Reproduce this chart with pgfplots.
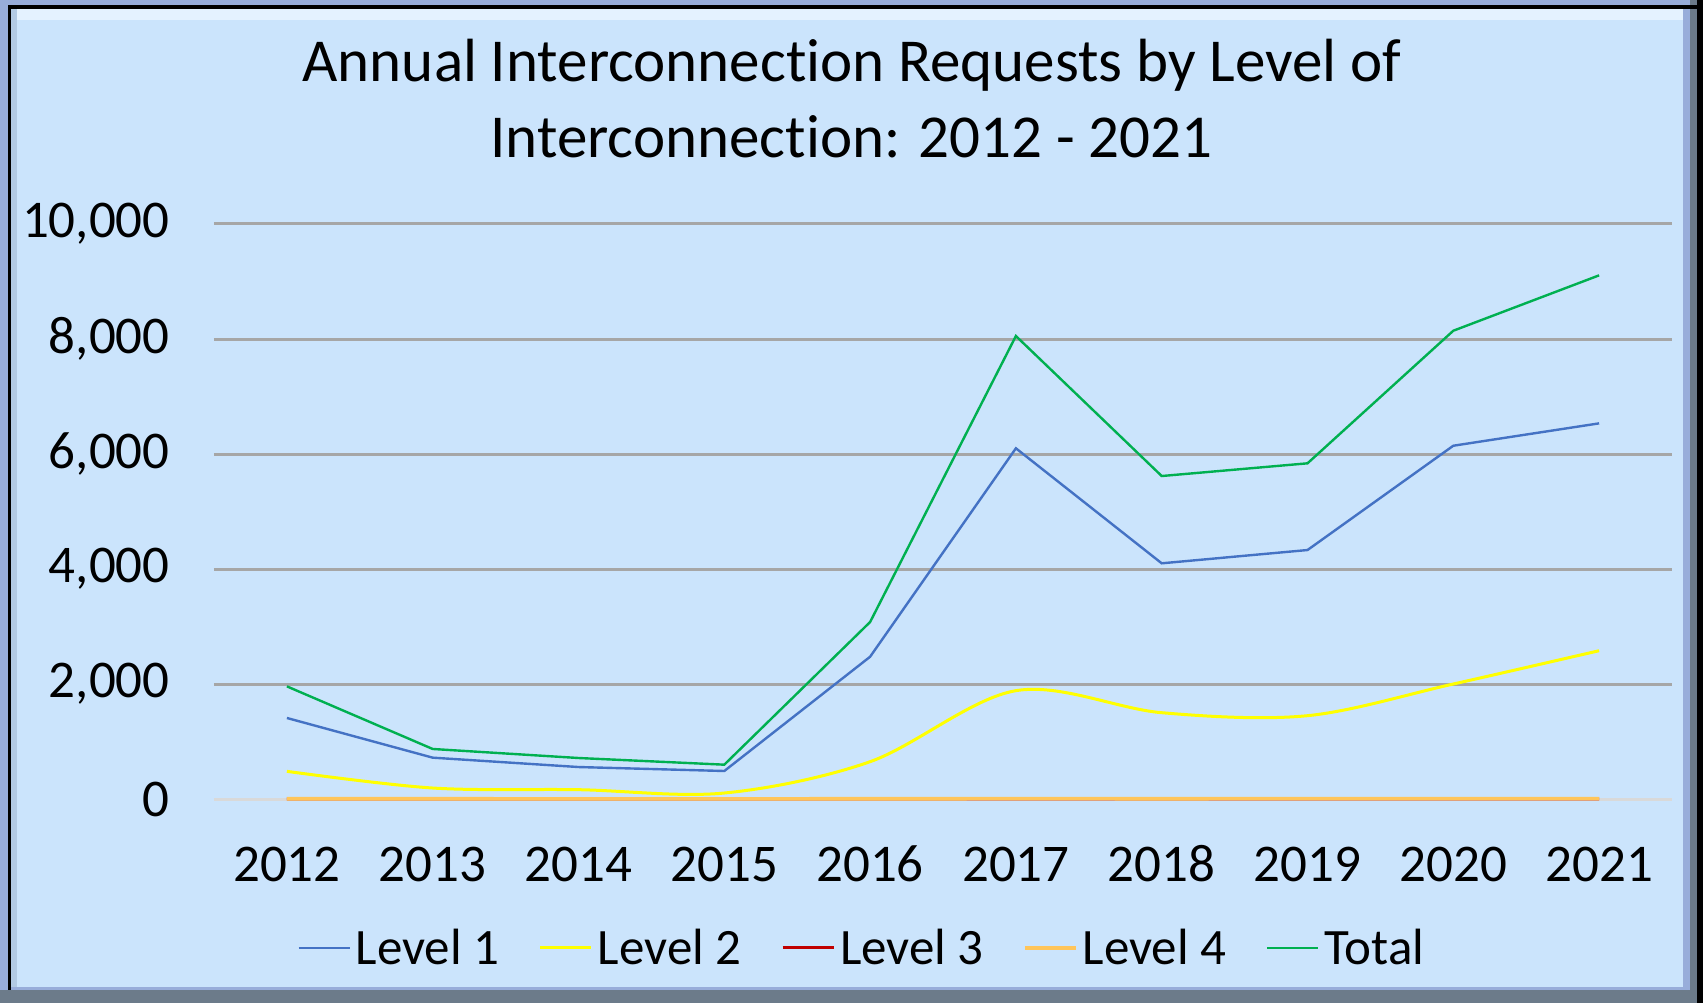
\documentclass[border=0pt]{standalone}
\usepackage{pgfplots}
\pgfplotsset{compat=1.18}
\usepackage{fontspec}
\setmainfont{Carlito}[Ligatures={NoCommon,NoContextual}]
\definecolor{bg}{RGB}{203,228,252}
\definecolor{framedark}{RGB}{108,123,138}
\definecolor{framelight}{RGB}{152,173,218}
\definecolor{hl}{RGB}{228,242,255}
\definecolor{leftstrip}{RGB}{178,202,228}
\definecolor{gridgray}{RGB}{166,166,166}
\definecolor{axisgray}{RGB}{217,217,217}
\definecolor{lvone}{RGB}{68,114,196}
\definecolor{lvtwo}{RGB}{255,255,0}
\definecolor{lvthree}{RGB}{192,0,0}
\definecolor{lvfour}{RGB}{255,197,90}
\definecolor{total}{RGB}{0,176,80}
\begin{document}
\begin{tikzpicture}
\useasboundingbox (0,0) rectangle (851.5pt,501.5pt);
\begin{scope}[x=0.5pt,y=0.5pt]
\fill[framedark] (0,0) rectangle (1703,1003);
\fill[framelight] (0,13) rectangle (1690,1003);
\fill[black] (8,13) rectangle (11,998);
\fill[black] (8,994) rectangle (1697,998);
\fill[black] (1697,0) rectangle (1703,1003);
\fill[bg] (11,16) rectangle (1683,994);
\fill[hl] (17,983) rectangle (1683,994);
\fill[leftstrip] (11,16) rectangle (17,994);
\end{scope}
\begin{axis}[
  at={(107pt,102pt)}, anchor=south west,
  scale only axis, width=729pt, height=287.5pt,
  xmin=-0.5, xmax=9.5, ymin=0, ymax=10000,
  xtick={0,...,9},
  xticklabels={2012,2013,2014,2015,2016,2017,2018,2019,2020,2021},
  ytick={2000,4000,6000,8000,10000},
  extra y ticks={0},
  extra y tick style={grid style={line width=1.5pt, color=axisgray}},
  ymajorgrids,
  grid style={line width=1.5pt, color=gridgray},
  axis line style={draw=none},
  major tick length=0pt,
  scaled y ticks=false,
  /pgf/number format/.cd, 1000 sep={,}, assume math mode=true,
  /pgfplots/.cd,
  tick label style={font=\fontsize{26.5}{30}\selectfont, text=black},
  yticklabel style={anchor=east, inner sep=0pt, xshift=-22pt},
  xticklabel style={anchor=base, inner sep=0pt, yshift=-41pt},
  clip=false,
  legend columns=5,
  legend style={draw=none, fill=none, inner sep=0pt,
    at={(0.0569,-0.259)}, anchor=west,
    font=\fontsize{25.5}{30}\selectfont,
    nodes={inner sep=0pt},
    /tikz/every odd column/.append style={column sep=2.5pt},
    /tikz/every even column/.append style={column sep=19.8pt}},
  legend image code/.code={\draw[#1] (0pt,0pt) -- (25.5pt,0pt);},
]
\addplot[lvone, line width=1.2pt] coordinates {(0,1409) (1,719) (2,556) (3,487) (4,2474) (5,6099) (6,4099) (7,4330) (8,6144) (9,6533)};
\addlegendentry{Level 1}
\addplot[lvtwo, line width=1.5pt, smooth, tension=0.55] coordinates {(0,481) (1,191) (2,162) (3,104) (4,649) (5,1884) (6,1501) (7,1449) (8,2000) (9,2579)};
\addlegendentry{Level 2}
\addplot[lvthree, line width=1.5pt] coordinates {(0,2) (1,1) (2,1) (3,1) (4,2) (5,3) (6,2) (7,3) (8,3) (9,4)};
\addlegendentry{Level 3}
\addplot[lvfour, line width=1.8pt] coordinates {(0,5) (1,4) (2,3) (3,3) (4,4) (5,6) (6,5) (7,6) (8,6) (9,7)};
\addlegendentry{Level 4}
\addplot[total, line width=1.2pt] coordinates {(0,1959) (1,870) (2,713) (3,597) (4,3078) (5,8052) (6,5617) (7,5838) (8,8144) (9,9107)};
\addlegendentry{Total}
\end{axis}
\node[anchor=base, font=\fontsize{30.5}{36}\selectfont] at (426pt,460.5pt) {Annual Interconnect\kern0pt ion Requests by Level of};
\node[anchor=base, font=\fontsize{30.5}{36}\selectfont] at (425.75pt,422.5pt) {Interconnect\kern0pt ion: 2012 - 2021};
\end{tikzpicture}
\end{document}
